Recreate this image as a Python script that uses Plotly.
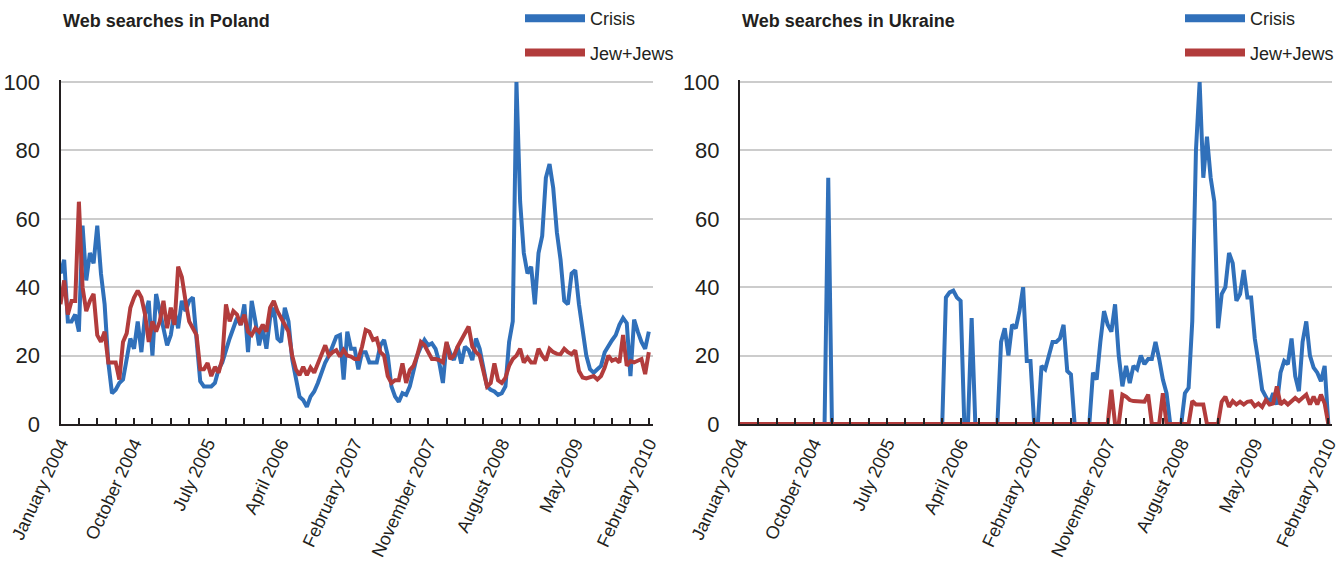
import plotly.graph_objects as go

# ---------------- data ----------------
# week index since the first week of January 2004, sampled every 2 weeks
weeks = list(range(0, 321, 2))

tick_weeks = list(range(0, 321, 10))
label_weeks = [0, 40, 80, 120, 160, 200, 240, 280, 320]
label_texts = ["January 2004", "October 2004", "July 2005", "April 2006",
               "February 2007", "November 2007", "August 2008", "May 2009",
               "February 2010"]

poland_crisis = [
    44, 48, 30, 30, 32, 27, 58, 42, 50, 47,
    58, 44, 35, 18, 9, 10, 12, 13, 19, 25,
    22, 30, 21, 32, 36, 20, 38, 33, 28, 23,
    26, 33, 28, 36, 33, 36, 37, 25, 12.5, 11,
    11, 11, 12, 16, 18, 22, 25, 28, 31, 29,
    35, 21, 36, 30, 23, 28, 22, 31, 34, 25,
    24, 34, 30, 19, 13, 8, 7, 5, 8, 9.5,
    12, 15, 18, 20, 23, 25.5, 26, 13, 27, 22,
    22, 16, 21, 21, 18, 18, 18, 23, 24.6, 20,
    11, 8, 6.5, 9, 8.5, 11, 16, 20, 22.5, 24.6,
    23, 23.6, 22, 18, 12, 23.6, 20.7, 18.7, 22.6, 17.7,
    22.6, 21.6, 18.7, 25, 22, 17, 11, 10, 9.5, 8.5,
    9, 11, 24, 30, 100, 65, 50, 44, 46, 35,
    50, 55, 72, 76, 69, 56, 48, 36, 35, 44,
    45, 35, 27, 20, 16, 15, 16, 17, 21, 23,
    24.5, 26, 29, 31, 29.5, 14, 30.5, 27, 24, 22,
    27,
]

poland_jews = [
    35, 42, 32, 36, 36, 65, 40, 33, 36, 38,
    26, 24, 27, 18, 18, 18, 13, 24, 26.5, 34,
    37, 39, 37, 32, 24, 30, 27, 30, 36, 28,
    34, 29, 46, 43, 36, 30, 28, 26, 16, 16,
    17.8, 14, 16.7, 15, 19, 35, 30, 33, 32, 29,
    32, 27, 26, 28, 27, 29, 27, 34, 36, 33,
    31, 29, 27, 20, 16, 14.3, 16.7, 14.3, 16.5, 15,
    17.7, 20, 23, 20, 21, 21.6, 19.7, 21.6, 20, 19.7,
    19, 19, 22.6, 27.5, 27, 24.6, 25, 21, 20, 14,
    12, 12.8, 12.8, 17.7, 12, 15.8, 17, 20, 24, 23,
    21, 19, 19, 18.7, 18, 24, 19, 20, 22.6, 24.6,
    26.5, 28.5, 22.6, 21, 20, 15.8, 11, 12, 17.7, 12.8,
    12, 13.5, 17, 19, 20, 22, 18, 19.4, 18, 18,
    22, 20, 18.6, 22, 21, 20.5, 20.4, 22, 21, 20.4,
    21.5, 15.5, 13.6, 13.3, 13.6, 14, 13, 14, 16.5, 20,
    18.5, 19, 18, 26, 17, 18.4, 18, 18.5, 19, 14.6,
    21,
]

ukraine_crisis = [
    0, 0, 0, 0, 0, 0, 0, 0, 0, 0,
    0, 0, 0, 0, 0, 0, 0, 0, 0, 0,
    0, 0, 0, 0, 72, 0, 0, 0, 0, 0,
    0, 0, 0, 0, 0, 0, 0, 0, 0, 0,
    0, 0, 0, 0, 0, 0, 0, 0, 0, 0,
    0, 0, 0, 0, 0, 0, 37, 38.5, 39, 37,
    36, 0, 0, 31, 0, 0, 0, 0, 0, 0,
    0, 24, 28, 20, 29, 28, 33, 40, 18.4, 18.4,
    0, 0, 17, 16, 20, 24, 24, 25, 29, 15.5,
    14.5, 0, 0, 0, 0, 0, 15, 13, 24, 33,
    29, 27, 35, 20, 11, 17, 12, 17, 16, 20,
    17.5, 19, 19, 24, 19, 13, 9, 0, 0, 0,
    0, 9, 10.6, 30, 80, 100, 72, 84, 72, 65,
    28, 38, 40, 50, 47, 36, 38, 45, 37, 37,
    25, 18, 10, 8, 6, 9, 5.7, 15, 18.4, 17.5,
    25, 14, 9.6, 24, 30, 20, 16.5, 15, 12.5, 17,
    0,
]

ukraine_jews = [
    0, 0, 0, 0, 0, 0, 0, 0, 0, 0,
    0, 0, 0, 0, 0, 0, 0, 0, 0, 0,
    0, 0, 0, 0, 0, 0, 0, 0, 0, 0,
    0, 0, 0, 0, 0, 0, 0, 0, 0, 0,
    0, 0, 0, 0, 0, 0, 0, 0, 0, 0,
    0, 0, 0, 0, 0, 0, 0, 0, 0, 0,
    0, 0, 0, 0, 0, 0, 0, 0, 0, 0,
    0, 0, 0, 0, 0, 0, 0, 0, 0, 0,
    0, 0, 0, 0, 0, 0, 0, 0, 0, 0,
    0, 0, 0, 0, 0, 0, 0, 0, 0, 0,
    0, 10, 0, 0, 8.6, 8, 7, 6.7, 6.7, 6.7,
    6.5, 8.6, 0, 0, 0, 9, 0, 0, 0, 0,
    0, 0, 0, 6.7, 5.7, 5.7, 5.7, 0, 0, 0,
    0, 6.5, 8, 5, 6.7, 5.7, 6.5, 5.7, 6.5, 6.7,
    5.2, 6, 5, 7, 5.7, 6, 11, 5.7, 6.7, 5.7,
    6.5, 7.6, 6.7, 7.6, 8.6, 5.7, 8, 5.7, 8.6, 6,
    0,
]

y_ticks = [0, 20, 40, 60, 80, 100]
series_names = ["Crisis", "Jew+Jews"]
titles = ["Web searches in Poland", "Web searches in Ukraine"]

# ---------------- style ----------------
W, H = 1342, 579
BLUE = "#3070ba"
RED = "#b23c3c"
INK = "#231f20"
FONT = "Liberation Sans Narrow, Liberation Sans, Arial, sans-serif"

tick_text = [label_texts[label_weeks.index(w)] if w in label_weeks else ""
             for w in tick_weeks]

fig = go.Figure()

panels = [
    ("x", "y", poland_crisis, poland_jews, "legend"),
    ("x2", "y2", ukraine_crisis, ukraine_jews, "legend2"),
]
for xa, ya, crisis, jews, leg in panels:
    for name, vals, col in [(series_names[0], crisis, BLUE), (series_names[1], jews, RED)]:
        fig.add_trace(go.Scatter(
            x=weeks, y=vals, mode="lines", name=name,
            line=dict(color=col, width=4),
            xaxis=xa, yaxis=ya, showlegend=False,
        ))
    # legend entries (thicker swatches, no data)
    for name, col in [(series_names[0], BLUE), (series_names[1], RED)]:
        fig.add_trace(go.Scatter(
            x=[None], y=[None], mode="lines", name=name,
            line=dict(color=col, width=8),
            xaxis=xa, yaxis=ya, legend=leg, legendgroup=leg + name,
            showlegend=True,
        ))

x_dom = [[60.5 / W, 652.5 / W], [740 / W, 1332 / W]]
y_dom = [(H - 424) / H, (H - 80.3) / H]

common_x = dict(
    range=[0, 322], tickmode="array", tickvals=tick_weeks, ticktext=tick_text,
    tickangle=-65, ticks="inside", ticklen=6, tickwidth=2, tickcolor=INK,
    showline=True, linecolor=INK, linewidth=2, showgrid=False, zeroline=False,
    tickfont=dict(family=FONT, size=18, color=INK), automargin=False,
)
common_y = dict(
    range=[0, 100.5], tickmode="array", tickvals=y_ticks, ticks="",
    showline=True, linecolor=INK, linewidth=2, showgrid=True,
    gridcolor="#cccccc", gridwidth=2, zeroline=False,
    tickfont=dict(family=FONT, size=22, color=INK), automargin=False,
    ticklabelstandoff=14,
)
legend_style = dict(
    xanchor="left", yanchor="top", y=1.0,
    font=dict(family=FONT, size=18, color=INK),
    bgcolor="rgba(0,0,0,0)", tracegroupgap=8, itemwidth=60,
)

fig.update_layout(
    width=W, height=H,
    margin=dict(l=0, r=0, t=0, b=0, autoexpand=False),
    paper_bgcolor="white", plot_bgcolor="white",
    font=dict(family=FONT, color=INK),
    xaxis=dict(domain=x_dom[0], anchor="y", **common_x),
    yaxis=dict(domain=y_dom, anchor="x", **common_y),
    xaxis2=dict(domain=x_dom[1], anchor="y2", **common_x),
    yaxis2=dict(domain=y_dom, anchor="x2", **common_y),
    legend=dict(x=520 / W, **legend_style),
    legend2=dict(x=1180 / W, **legend_style),
    annotations=[
        dict(text="<b>" + titles[0] + "</b>", x=61 / W, y=1 - 21 / H,
             xref="paper", yref="paper", xanchor="left", yanchor="middle",
             showarrow=False, font=dict(family=FONT, size=18, color=INK)),
        dict(text="<b>" + titles[1] + "</b>", x=740 / W, y=1 - 21 / H,
             xref="paper", yref="paper", xanchor="left", yanchor="middle",
             showarrow=False, font=dict(family=FONT, size=18, color=INK)),
    ],
)

fig.write_html("out.html",
               config={"displayModeBar": False},
               post_script="document.body.style.margin='0';document.body.style.padding='0';")
